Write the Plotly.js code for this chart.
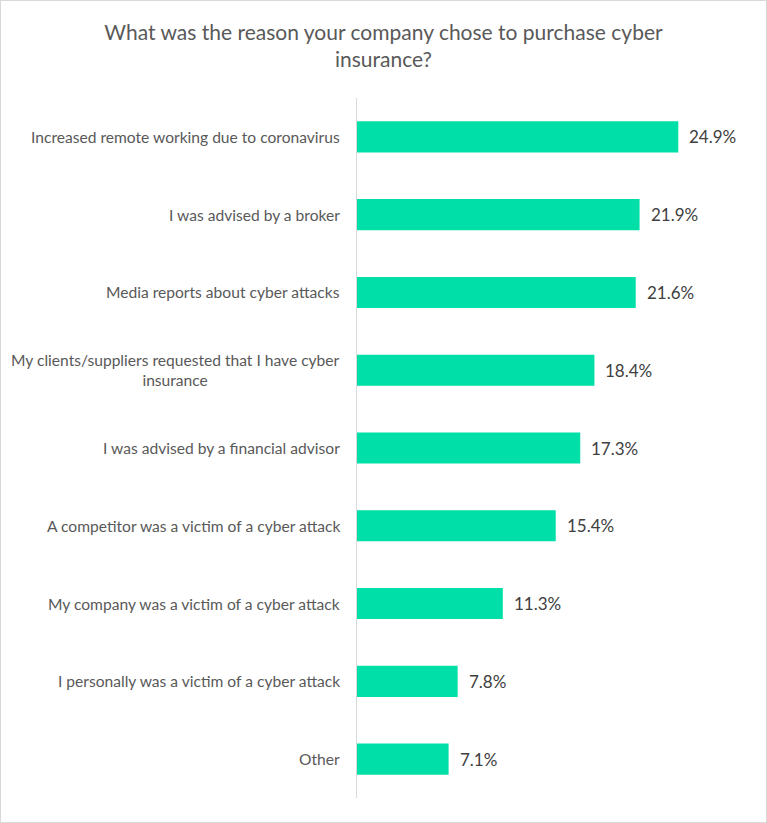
<!DOCTYPE html>
<html>
<head>
<meta charset="utf-8">
<script src="https://cdn.plot.ly/plotly-3.0.1.min.js"></script>
<style>
html,body{margin:0;padding:0;background:#fff;}
#wrap{position:relative;width:767px;height:823px;}
#frame{position:absolute;left:0;top:0;width:765px;height:821px;border:1px solid #d9d9d9;pointer-events:none;}
</style>
</head>
<body>
<div id="wrap"><div id="chart" style="width:767px;height:823px;"></div><div id="frame"></div></div>
<script>
const categories = [
  "Increased remote working due to coronavirus",
  "I was advised by a broker",
  "Media reports about cyber attacks",
  "My clients/suppliers requested that I have cyber<br>insurance",
  "I was advised by a financial advisor",
  "A competitor was a victim of a cyber attack",
  "My company was a victim of a cyber attack",
  "I personally was a victim of a cyber attack",
  "Other"
];
const values = [24.9, 21.9, 21.6, 18.4, 17.3, 15.4, 11.3, 7.8, 7.1];
const valueLabels = ["24.9%", "21.9%", "21.6%", "18.4%", "17.3%", "15.4%", "11.3%", "7.8%", "7.1%"];
const titleText = "What was the reason your company chose to purchase cyber<br>insurance?";

const FONT = "Lato, 'Open Sans', sans-serif";

const catAnn = categories.map((c) => ({
  x: 0, xref: "x", y: c, yref: "y",
  xanchor: "right", yanchor: "middle", xshift: -15,
  text: c, showarrow: false, align: "center",
  font: {family: FONT, size: 15.6, color: "#595959"}
}));
const valAnn = categories.map((c, i) => ({
  x: values[i], xref: "x", y: c, yref: "y",
  xanchor: "left", yanchor: "middle", xshift: 9,
  text: valueLabels[i], showarrow: false,
  font: {family: FONT, size: 17, color: "#404040"}
}));

const trace = {
  type: "bar", orientation: "h",
  x: values, y: categories,
  marker: {color: "#00DFA7"},
  hoverinfo: "none"
};

const layout = {
  width: 767, height: 823,
  margin: {l: 357, r: 10, t: 98, b: 25},
  paper_bgcolor: "#fff", plot_bgcolor: "#fff",
  bargap: 0.6,
  showlegend: false,
  title: {
    text: titleText, x: 0.5, xref: "container", xanchor: "center",
    y: 1 - 40/823, yref: "container", yanchor: "top",
    font: {family: FONT, size: 21, color: "#595959"}
  },
  xaxis: {range: [0, 31], showgrid: false, zeroline: false, showticklabels: false, showline: false, fixedrange: true},
  yaxis: {
    type: "category", autorange: "reversed", showticklabels: false,
    showgrid: false, zeroline: false, showline: true, linecolor: "#d9d9d9", linewidth: 1.5,
    ticks: "", fixedrange: true
  },
  annotations: catAnn.concat(valAnn)
};

Plotly.newPlot("chart", [trace], layout, {displayModeBar: false, staticPlot: true});
</script>
</body>
</html>
